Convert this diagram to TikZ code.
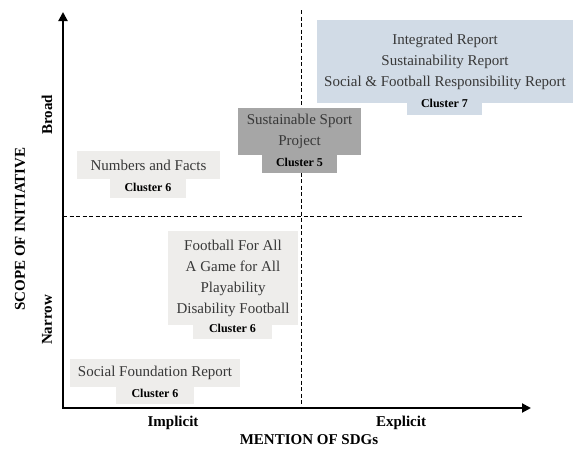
\documentclass[tikz,border=0pt]{standalone}
\usepackage{fontspec}
\setmainfont{Liberation Serif}
\usetikzlibrary{arrows.meta}
\definecolor{paper}{HTML}{EEEDEB}
\definecolor{stone}{HTML}{A6A6A6}
\definecolor{mist}{HTML}{D1DBE6}
\begin{document}
\begin{tikzpicture}[x=1pt,y=-1pt,
  box/.style={inner sep=0pt, align=center, font=\fontsize{15}{21}\selectfont, text=black!78},
  tag/.style={inner sep=0pt, font=\fontsize{12}{14}\selectfont\bfseries},
  axisline/.style={line width=2pt, {Triangle[length=9pt,width=9pt]}-{Triangle[length=9pt,width=9pt]}},
  guide/.style={line width=0.8pt, dash pattern=on 4pt off 2.5pt},
  axlabel/.style={inner sep=0pt, font=\fontsize{15}{18}\selectfont\bfseries}]
\useasboundingbox (0,0) rectangle (574,451);

% quadrant guides
\coordinate (vtop) at (301,10);
\coordinate (vbot) at (301,408);
\coordinate (hleft) at (63,216);
\coordinate (hright) at (523,216);
\draw[guide] (vtop) -- (vbot);
\draw[guide] (hleft) -- (hright);

% initiatives
\node[box, fill=mist, minimum width=256pt, minimum height=83pt] (reports) at (445,61.5)
  {Integrated Report\\Sustainability Report\\Social \& Football Responsibility Report};
\node[tag, fill=mist, minimum width=75pt, minimum height=24pt] (reportsTag) at (444.5,103) {Cluster 7};

\node[box, fill=stone, minimum width=123pt, minimum height=47pt] (sport) at (299.5,131)
  {Sustainable Sport\\Project};
\node[tag, fill=stone, minimum width=75pt, minimum height=22pt] (sportTag) at (299.5,162) {Cluster 5};

\node[box, fill=paper, minimum width=143pt, minimum height=28pt] (numbers) at (148.5,165) {Numbers and Facts};
\node[tag, fill=paper, minimum width=76pt, minimum height=22pt] (numbersTag) at (148,187) {Cluster 6};

\node[box, fill=paper, minimum width=130pt, minimum height=94pt] (football) at (233,278)
  {Football For All\\A Game for All\\Playability\\Disability Football};
\node[tag, fill=paper, minimum width=79pt, minimum height=22pt] (footballTag) at (232.5,328) {Cluster 6};

\node[box, fill=paper, minimum width=170pt, minimum height=28pt] (foundation) at (155,373) {Social Foundation Report};
\node[tag, fill=paper, minimum width=78pt, minimum height=22pt] (foundationTag) at (155,393) {Cluster 6};

% axes
\coordinate (origin) at (63,408);
\coordinate (ytip) at (63,12);
\coordinate (xtip) at (531,408);
\draw[axisline] (ytip) -- (origin) -- (xtip);

% axis labels
\node[axlabel, rotate=90] (broad) at (47,115) {Broad};
\node[axlabel, rotate=90] (narrow) at (47,320) {Narrow};
\node[axlabel, rotate=90] (scope) at (20,229) {SCOPE OF INITIATIVE};
\node[axlabel] (implicit) at (173,423) {Implicit};
\node[axlabel] (explicit) at (401,423) {Explicit};
\node[axlabel] (mention) at (309,440) {MENTION OF SDGs};
\end{tikzpicture}
\end{document}
